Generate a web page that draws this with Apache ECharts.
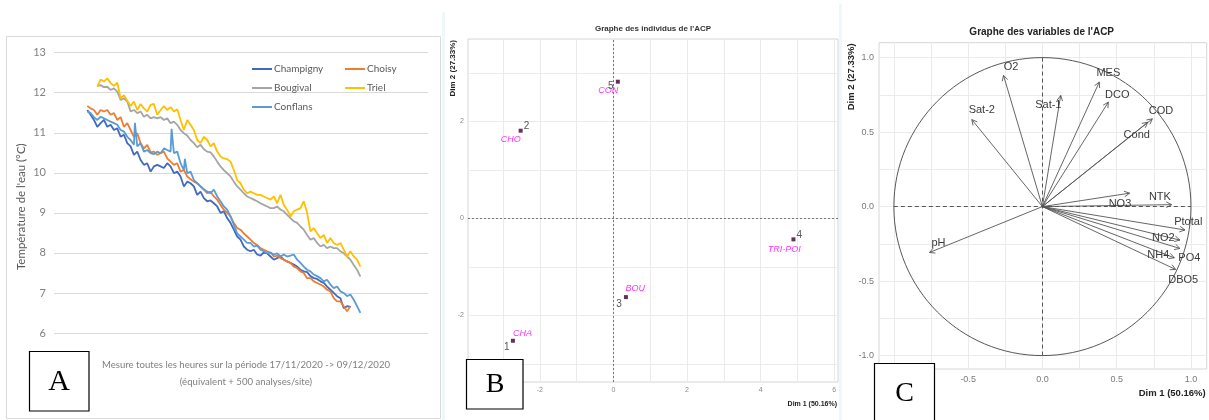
<!DOCTYPE html>
<html>
<head>
<meta charset="utf-8">
<script src="https://cdn.jsdelivr.net/npm/echarts@6/dist/echarts.min.js"></script>
<style>html,body{margin:0;padding:0;background:#fff}#c{width:1209px;height:420px}</style>
</head>
<body>
<div id="c"></div>
<script>
// ---------- Panel A : water temperature (sample index, °C) ----------
const seriesNames = ['Champigny', 'Choisy', 'Bougival', 'Triel', 'Conflans'];
const lowerStart = 10;   // first sample index of Champigny / Choisy / Conflans
const upperStart = 13;   // first sample index of Bougival / Triel
const champigny = [11.57,11.45,11.32,11.15,11.24,11.32,11.15,11.20,11.07,11.11,10.90,10.95,10.74,10.66,10.45,10.53,10.32,10.20,10.24,10.03,10.16,10.20,10.16,10.12,10.24,10.16,9.99,10.03,9.91,9.66,9.78,9.74,9.66,9.45,9.53,9.37,9.29,9.31,9.24,9.16,9.00,9.04,8.87,8.75,8.58,8.41,8.33,8.16,8.08,8.04,8.08,7.96,7.93,8.01,7.99,7.91,7.83,7.87,7.91,7.83,7.79,7.75,7.71,7.66,7.58,7.54,7.52,7.42,7.37,7.35,7.29,7.25,7.16,7.08,7.00,6.92,6.87,6.62,6.67,6.65];
const choisy = [11.67,11.61,11.57,11.45,11.57,11.53,11.57,11.45,11.49,11.32,11.39,11.15,11.24,11.07,10.90,10.99,10.74,10.61,10.70,10.51,10.53,10.45,10.49,10.53,10.36,10.28,10.20,10.24,10.03,10.07,9.91,9.84,9.78,9.74,9.66,9.58,9.49,9.53,9.41,9.33,9.20,9.08,9.00,8.91,8.75,8.62,8.58,8.49,8.41,8.33,8.25,8.20,8.12,8.08,8.04,8.01,7.91,7.93,7.87,7.83,7.79,7.75,7.66,7.62,7.54,7.50,7.37,7.37,7.29,7.25,7.21,7.16,7.08,7.04,6.87,6.79,6.79,6.67,6.54,6.67];
const bougival = [12.17,12.19,12.14,12.15,12.07,12.11,12.03,11.82,11.86,11.78,11.53,11.57,11.49,11.53,11.40,11.45,11.36,11.39,11.36,11.39,11.32,11.36,11.24,11.28,11.20,11.07,10.99,10.93,10.82,10.74,10.64,10.70,10.59,10.53,10.51,10.41,10.28,10.16,10.07,9.99,9.91,9.78,9.66,9.58,9.49,9.41,9.37,9.33,9.29,9.24,9.20,9.16,9.12,9.12,9.16,9.08,9.04,8.95,8.87,8.79,8.75,8.66,8.58,8.45,8.33,8.37,8.25,8.16,8.20,8.12,8.16,8.12,8.12,8.04,7.99,7.91,7.83,7.70,7.58,7.41];
const triel = [12.15,12.33,12.28,12.36,12.24,12.17,12.25,11.86,11.94,11.80,11.67,11.78,11.57,11.72,11.61,11.53,11.70,11.72,11.45,11.57,11.67,11.57,11.64,11.53,11.59,11.32,11.07,11.32,11.20,11.07,10.82,10.74,10.90,10.82,10.66,10.74,10.53,10.41,10.36,10.34,10.28,10.07,9.82,9.74,9.58,9.49,9.53,9.49,9.45,9.45,9.41,9.37,9.33,9.41,9.24,9.45,9.20,9.08,8.91,9.04,9.08,9.12,9.29,9.00,8.54,8.62,8.49,8.37,8.45,8.25,8.37,8.25,8.20,8.25,8.08,7.91,8.04,7.91,7.83,7.66];
const conflans = [11.53,11.49,11.39,11.32,11.40,11.36,11.32,11.28,11.24,11.20,11.07,11.03,10.90,10.82,10.70,10.66,10.74,10.53,10.57,10.49,10.47,10.53,10.49,10.61,10.57,10.53,10.49,10.53,10.24,10.07,9.99,10.03,9.82,9.74,9.66,9.59,9.53,9.49,9.58,9.41,9.29,9.16,9.08,8.91,8.70,8.49,8.41,8.33,8.25,8.25,8.16,8.18,8.08,8.04,7.99,8.01,7.96,7.99,7.91,7.96,7.91,7.93,7.96,7.83,7.75,7.66,7.58,7.54,7.46,7.42,7.37,7.29,7.33,7.21,7.12,7.16,7.04,7.00,6.92,6.96,6.83,6.67,6.50];
const conflansSpikeX = [24.3, 35.3, 39.3];
const conflansSpikeY = [11.25, 11.10, 10.35];
const tempMin = 6, tempMax = 13, tempStep = 1;
const sampleMax = 112.3;

// ---------- Panel B : individuals of the PCA ----------
const indivNames = ['CHA', 'CHO', 'BOU', 'TRI-POI', 'CON'];
const indivNums = ['1', '2', '3', '4', '5'];
const indivDim1 = [-2.73, -2.52, 0.34, 4.89, 0.12];
const indivDim2 = [-2.52, 1.81, -1.62, -0.43, 2.82];
const indivNameX = [-2.47, -2.79, 0.59, 4.64, -0.14];
const indivNameY = [-2.37, 1.62, -1.44, -0.64, 2.63];
const indivNumX = [-2.90, -2.36, 0.15, 5.05, -0.07];
const indivNumY = [-2.66, 1.90, -1.76, -0.34, 2.72];
const bXTicks = [-3, -2, -1, 0, 1, 2, 3, 4, 5, 6];
const bXLabels = [-2, 0, 2, 4, 6];
const bYTicks = [-3, -2, -1, 0, 1, 2, 3];
const bYLabels = [-2, 0, 2];

// ---------- Panel C : variables of the PCA ----------
const varNames = ['O2', 'Sat-2', 'Sat-1', 'MES', 'DCO', 'COD', 'Cond', 'NTK', 'NO3', 'Ptotal', 'NO2', 'PO4', 'NH4', 'DBO5', 'pH'];
const varDim1 = [-0.262, -0.475, 0.123, 0.383, 0.444, 0.740, 0.709, 0.587, 0.870, 0.960, 0.926, 0.926, 0.888, 0.897, -0.760];
const varDim2 = [0.881, 0.584, 0.746, 0.836, 0.701, 0.589, 0.566, 0.090, 0.013, -0.157, -0.225, -0.281, -0.344, -0.422, -0.308];
const varLabelX = [-0.211, -0.408, 0.040, 0.444, 0.504, 0.798, 0.635, 0.791, 0.522, 0.982, 0.814, 0.989, 0.780, 0.948, -0.700];
const varLabelY = [0.937, 0.647, 0.679, 0.894, 0.751, 0.645, 0.483, 0.067, 0.020, -0.101, -0.213, -0.348, -0.326, -0.490, -0.247];
const cTicks = [-1, -0.75, -0.5, -0.25, 0, 0.25, 0.5, 0.75, 1];
const cLabels = [-1, -0.5, 0, 0.5, 1];

// ---------- build ----------
const seriesColors = ['#4169bd', '#ED7D31', '#A5A5A5', '#FFC000', '#5B9BD5'];
function toPairs(start, vals) { return vals.map((v, k) => [start + k, v]); }
const conflansPairs = toPairs(lowerStart, conflans)
  .concat(conflansSpikeX.map((x, k) => [x, conflansSpikeY[k]]))
  .sort((a, b) => a[0] - b[0]);
const tempData = [toPairs(lowerStart, champigny), toPairs(lowerStart, choisy), toPairs(upperStart, bougival), toPairs(upperStart, triel), conflansPairs];

const fontA = 'Lato, "Open Sans", sans-serif';
const fontR = '"Liberation Sans", Arial, sans-serif';

const chart = echarts.init(document.getElementById('c'), null, {renderer: 'canvas'});

function textSeries(name, xi, yi, xs, ys, labels, style) {
  return {
    type: 'custom', name: name, xAxisIndex: xi, yAxisIndex: yi, silent: true, z: 5,
    data: xs.map((x, k) => [x, ys[k], k]),
    renderItem: function (params, api) {
      const p = api.coord([api.value(0), api.value(1)]);
      return {type: 'text', x: p[0], y: p[1], style: Object.assign({text: labels[api.value(2)], align: 'center', verticalAlign: 'middle'}, style)};
    }
  };
}

const serif = '"Liberation Serif", "DejaVu Serif", serif';

const option = {
  animation: false,
  backgroundColor: '#ffffff',
  grid: [
    {left: 54, top: 52.7, width: 374, height: 280.3},
    {left: 468, top: 39, width: 370, height: 343, show: true, borderColor: '#d6d6d6', borderWidth: 1, backgroundColor: 'transparent'},
    {left: 879, top: 42.7, width: 327.7, height: 326.3, show: true, borderColor: '#d6d6d6', borderWidth: 1, backgroundColor: 'transparent'}
  ],
  xAxis: [
    {gridIndex: 0, type: 'value', min: 0, max: sampleMax, show: false},
    {gridIndex: 1, type: 'value', min: -3.95, max: 6.1,
     axisLine: {show: false},
     axisTick: {show: false, customValues: bXTicks},
     splitLine: {show: true, lineStyle: {color: '#ebebeb', width: 1}},
     axisLabel: {customValues: bXLabels, fontSize: 7, color: '#8a8a8a', margin: 5, fontFamily: fontR}},
    {gridIndex: 2, type: 'value', min: -1.1, max: 1.106,
     axisLine: {show: false},
     axisTick: {show: false, customValues: cTicks},
     splitLine: {show: true, lineStyle: {color: '#ebebeb', width: 1}},
     axisLabel: {customValues: cLabels, fontSize: 9, color: '#7a7a7a', margin: 6, fontFamily: fontR, formatter: v => v.toFixed(1)}}
  ],
  yAxis: [
    {gridIndex: 0, type: 'value', min: tempMin, max: tempMax, interval: tempStep,
     axisLine: {show: false}, axisTick: {show: false},
     splitLine: {lineStyle: {color: '#d9d9d9', width: 1}},
     axisLabel: {fontSize: 11, color: '#7f7f7f', margin: 8, fontFamily: fontA}},
    {gridIndex: 1, type: 'value', min: -3.37, max: 3.70,
     axisLine: {show: false},
     axisTick: {show: false, customValues: bYTicks},
     splitLine: {show: true, lineStyle: {color: '#ebebeb', width: 1}},
     axisLabel: {customValues: bYLabels, fontSize: 7, color: '#8a8a8a', margin: 4, fontFamily: fontR}},
    {gridIndex: 2, type: 'value', min: -1.09, max: 1.10,
     axisLine: {show: false},
     axisTick: {show: false, customValues: cTicks},
     splitLine: {show: true, lineStyle: {color: '#ebebeb', width: 1}},
     axisLabel: {customValues: cLabels, fontSize: 9, color: '#7a7a7a', margin: 5, fontFamily: fontR, formatter: v => v.toFixed(1)}}
  ],
  legend: [
    {data: ['Champigny', 'Bougival', 'Conflans'], orient: 'vertical', left: 252, top: 62, padding: 0, itemWidth: 20, itemHeight: 2, itemGap: 5, icon: 'rect',
     textStyle: {fontSize: 10, color: '#595959', fontFamily: fontA, lineHeight: 14, padding: [0, 0, 0, -3]}},
    {data: ['Choisy', 'Triel'], orient: 'vertical', left: 345, top: 62, padding: 0, itemWidth: 20, itemHeight: 2, itemGap: 5, icon: 'rect',
     textStyle: {fontSize: 10, color: '#595959', fontFamily: fontA, lineHeight: 14, padding: [0, 0, 0, -3]}}
  ],
  series: [
    ...seriesNames.map((n, i) => ({
      type: 'line', name: n, xAxisIndex: 0, yAxisIndex: 0, data: tempData[i],
      showSymbol: false, symbol: 'none', color: seriesColors[i],
      lineStyle: {width: 1.8, color: seriesColors[i]}, z: 2 + i
    })),
    // Panel B points
    {type: 'scatter', name: 'individus', xAxisIndex: 1, yAxisIndex: 1,
     data: indivDim1.map((x, k) => [x, indivDim2[k]]),
     symbol: 'rect', symbolSize: 4, itemStyle: {color: '#3b0030'}, z: 6,
     markLine: {silent: true, symbol: 'none', label: {show: false},
       lineStyle: {type: [2, 2], color: '#777', width: 1},
       data: [{xAxis: 0}, {yAxis: 0}]}},
    textSeries('noms', 1, 1, indivNameX, indivNameY, indivNames, {fill: '#ff33ff', font: 'italic 9px ' + fontR}),
    textSeries('numeros', 1, 1, indivNumX, indivNumY, indivNums, {fill: '#555', font: '10px ' + fontR}),
    // Panel C circle + axes lines
    {type: 'custom', name: 'cercle', xAxisIndex: 2, yAxisIndex: 2, silent: true, data: [[0, 0]], z: 3,
     renderItem: function (params, api) {
       const c = api.coord([0, 0]);
       const r = api.size([1, 1]);
       return {type: 'ellipse', shape: {cx: c[0], cy: c[1], rx: r[0], ry: r[1]}, style: {stroke: '#444', lineWidth: 0.9, fill: 'none'}};
     }},
    {type: 'scatter', name: 'axes', xAxisIndex: 2, yAxisIndex: 2, data: [[0, 0]], symbolSize: 0, silent: true,
     markLine: {silent: true, symbol: 'none', label: {show: false},
       lineStyle: {type: [4, 3], color: '#555', width: 1},
       data: [[{coord: [-1, 0]}, {coord: [1, 0]}], [{coord: [0, -1]}, {coord: [0, 1]}]]}},
    {type: 'custom', name: 'variables', xAxisIndex: 2, yAxisIndex: 2, silent: true, z: 4,
     data: varDim1.map((x, k) => [x, varDim2[k]]),
     renderItem: function (params, api) {
       const o = api.coord([0, 0]);
       const t = api.coord([api.value(0), api.value(1)]);
       const ang = Math.atan2(t[1] - o[1], t[0] - o[0]);
       const L = 6, a = Math.PI / 6.5;
       const p1 = [t[0] - L * Math.cos(ang - a), t[1] - L * Math.sin(ang - a)];
       const p2 = [t[0] - L * Math.cos(ang + a), t[1] - L * Math.sin(ang + a)];
       return {type: 'group', children: [
         {type: 'line', shape: {x1: o[0], y1: o[1], x2: t[0], y2: t[1]}, style: {stroke: '#555', lineWidth: 0.9}},
         {type: 'polyline', shape: {points: [p1, t, p2]}, style: {stroke: '#555', fill: 'none', lineWidth: 0.9}}
       ]};
     }},
    textSeries('etiquettes', 2, 2, varLabelX, varLabelY, varNames, {fill: '#3a3a3a', font: '11px ' + fontR})
  ],
  graphic: [
    // panel frames
    {type: 'rect', silent: true, z: -10, shape: {x: 6.5, y: 36.5, width: 434, height: 382}, style: {fill: 'none', stroke: '#d9d9d9', lineWidth: 1}},
    {type: 'rect', silent: true, z: -10, shape: {x: 442, y: 12, width: 3, height: 408}, style: {fill: '#eef8fa'}},
    {type: 'rect', silent: true, z: -10, shape: {x: 839, y: 4, width: 3, height: 416}, style: {fill: '#eef8fa'}},
    // panel A texts
    {type: 'text', silent: true, x: 21.7, y: 206.7, rotation: Math.PI / 2,
     style: {text: "Température de l'eau (°C)", font: '11.5px ' + fontA, fill: '#595959', align: 'center', verticalAlign: 'middle'}},
    {type: 'text', silent: true, x: 246, y: 365,
     style: {text: 'Mesure toutes les heures sur la période 17/11/2020 -> 09/12/2020', font: '9.6px ' + fontA, fill: '#7f7f7f', align: 'center', verticalAlign: 'middle'}},
    {type: 'text', silent: true, x: 246, y: 382,
     style: {text: '(équivalent + 500 analyses/site)', font: '9.6px ' + fontA, fill: '#7f7f7f', align: 'center', verticalAlign: 'middle'}},
    // panel B texts
    {type: 'text', silent: true, x: 653, y: 29,
     style: {text: "Graphe des individus de l'ACP", font: 'bold 8px ' + fontR, fill: '#333', align: 'center', verticalAlign: 'middle'}},
    {type: 'text', silent: true, x: 453, y: 40, rotation: Math.PI / 2,
     style: {text: 'Dim 2 (27.33%)', font: 'bold 8px ' + fontR, fill: '#222', align: 'right', verticalAlign: 'middle'}},
    {type: 'text', silent: true, x: 837, y: 404,
     style: {text: 'Dim 1 (50.16%)', font: 'bold 7px ' + fontR, fill: '#222', align: 'right', verticalAlign: 'middle'}},
    // panel C texts
    {type: 'text', silent: true, x: 1041.7, y: 32.3,
     style: {text: "Graphe des variables de l'ACP", font: 'bold 10px ' + fontR, fill: '#222', align: 'center', verticalAlign: 'middle'}},
    {type: 'text', silent: true, x: 851.7, y: 43.3, rotation: Math.PI / 2,
     style: {text: 'Dim 2 (27.33%)', font: 'bold 9.5px ' + fontR, fill: '#222', align: 'right', verticalAlign: 'middle'}},
    {type: 'text', silent: true, x: 1205.7, y: 393.3,
     style: {text: 'Dim 1 (50.16%)', font: 'bold 9.5px ' + fontR, fill: '#222', align: 'right', verticalAlign: 'middle'}},
    // letter boxes
    {type: 'rect', z: 100, zlevel: 1, shape: {x: 29.5, y: 351.5, width: 59.5, height: 59.5}, style: {fill: '#fff', stroke: '#000', lineWidth: 1.2}},
    {type: 'text', z: 101, zlevel: 1, x: 59.2, y: 382, style: {text: 'A', font: '30px ' + serif, fill: '#000', align: 'center', verticalAlign: 'middle'}},
    {type: 'rect', z: 100, zlevel: 1, shape: {x: 466.5, y: 359.5, width: 56.5, height: 49.5}, style: {fill: '#fff', stroke: '#000', lineWidth: 1.2}},
    {type: 'text', z: 101, zlevel: 1, x: 495, y: 385, style: {text: 'B', font: '28px ' + serif, fill: '#000', align: 'center', verticalAlign: 'middle'}},
    {type: 'rect', z: 100, zlevel: 1, shape: {x: 874.5, y: 363.5, width: 60, height: 60}, style: {fill: '#fff', stroke: '#000', lineWidth: 1.2}},
    {type: 'text', z: 101, zlevel: 1, x: 904.5, y: 394, style: {text: 'C', font: '28px ' + serif, fill: '#000', align: 'center', verticalAlign: 'middle'}}
  ]
};
chart.setOption(option);
</script>
</body>
</html>
